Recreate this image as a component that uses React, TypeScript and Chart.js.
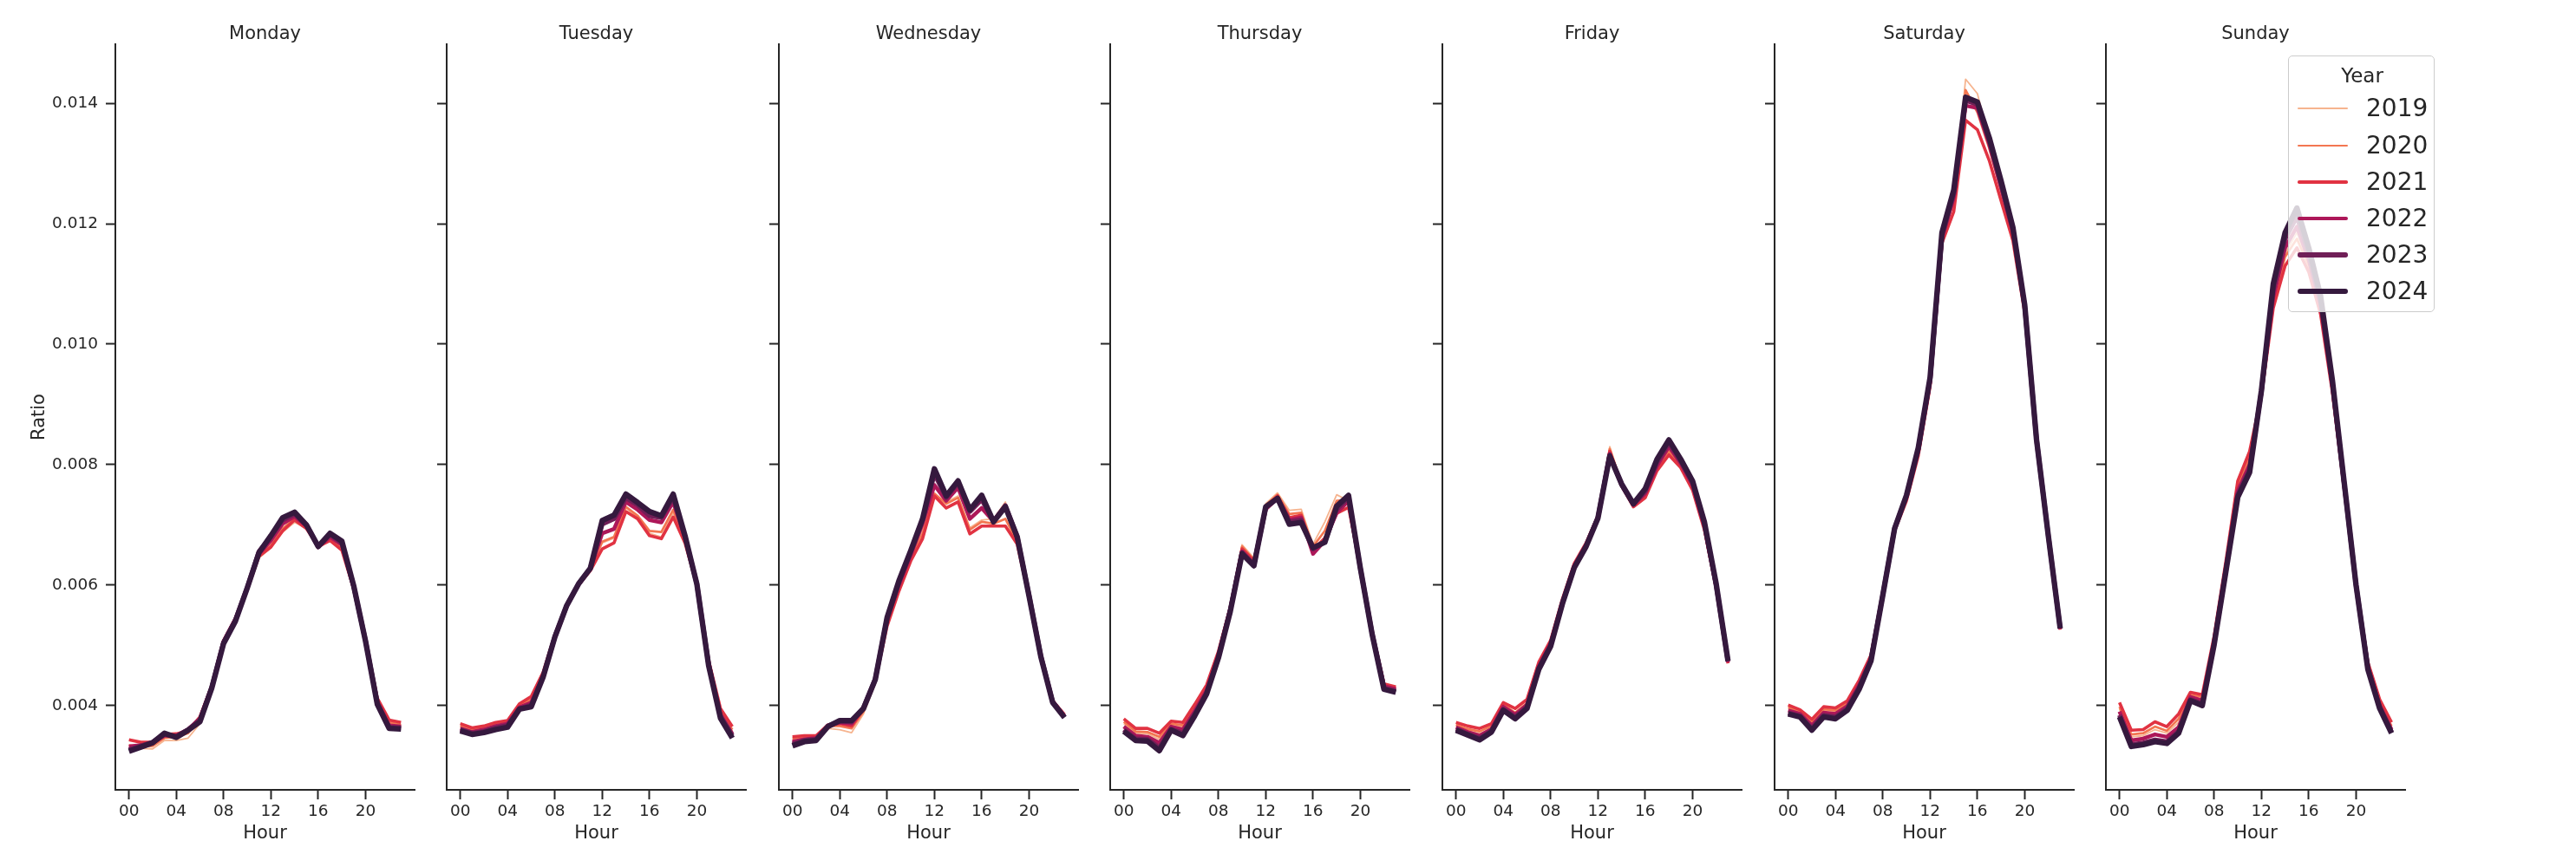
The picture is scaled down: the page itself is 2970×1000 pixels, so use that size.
import React, { useEffect, useRef } from "react";
import { Chart, registerables } from "chart.js";

Chart.register(...registerables);
Chart.defaults.font.family = "'DejaVu Sans', sans-serif";

// ---------- data ----------
const hours = [0, 1, 2, 3, 4, 5, 6, 7, 8, 9, 10, 11, 12, 13, 14, 15, 16, 17, 18, 19, 20, 21, 22, 23];
const days = ["Monday", "Tuesday", "Wednesday", "Thursday", "Friday", "Saturday", "Sunday"];
const years = ["2019", "2020", "2021", "2022", "2023", "2024"];
const xTickValues = [0, 4, 8, 12, 16, 20];
const yTickValues = [0.004, 0.006, 0.008, 0.01, 0.012, 0.014];

const monday2019 = [0.00330,0.00329,0.00328,0.00342,0.00342,0.00346,0.00370,0.00426,0.00502,0.00540,0.00590,0.00645,0.00662,0.00688,0.00704,0.00694,0.00663,0.00673,0.00660,0.00592,0.00506,0.00407,0.00370,0.00366];
const monday2020 = [0.00334,0.00332,0.00333,0.00346,0.00348,0.00354,0.00376,0.00430,0.00506,0.00542,0.00592,0.00648,0.00666,0.00694,0.00710,0.00696,0.00662,0.00676,0.00662,0.00595,0.00508,0.00408,0.00372,0.00368];
const monday2021 = [0.00343,0.00339,0.00339,0.00352,0.00353,0.00358,0.00381,0.00433,0.00508,0.00545,0.00592,0.00648,0.00663,0.00690,0.00708,0.00694,0.00664,0.00674,0.00658,0.00594,0.00510,0.00412,0.00376,0.00372];
const monday2022 = [0.00332,0.00334,0.00338,0.00350,0.00350,0.00360,0.00378,0.00431,0.00506,0.00543,0.00595,0.00652,0.00674,0.00702,0.00714,0.00698,0.00663,0.00680,0.00667,0.00596,0.00507,0.00406,0.00367,0.00365];
const monday2023 = [0.00327,0.00333,0.00339,0.00352,0.00349,0.00360,0.00376,0.00430,0.00505,0.00542,0.00596,0.00656,0.00680,0.00708,0.00718,0.00700,0.00664,0.00684,0.00670,0.00598,0.00508,0.00404,0.00364,0.00363];
const monday2024 = [0.00324,0.00331,0.00338,0.00354,0.00347,0.00359,0.00373,0.00429,0.00503,0.00540,0.00595,0.00654,0.00682,0.00712,0.00721,0.00700,0.00664,0.00686,0.00673,0.00599,0.00507,0.00402,0.00362,0.00361];

const tuesday2019 = [0.00364,0.00358,0.00361,0.00367,0.00370,0.00398,0.00408,0.00450,0.00515,0.00567,0.00601,0.00626,0.00670,0.00678,0.00728,0.00712,0.00686,0.00680,0.00720,0.00672,0.00601,0.00470,0.00388,0.00358];
const tuesday2020 = [0.00366,0.00360,0.00363,0.00369,0.00372,0.00400,0.00410,0.00452,0.00516,0.00567,0.00601,0.00625,0.00672,0.00680,0.00730,0.00715,0.00690,0.00688,0.00725,0.00674,0.00601,0.00472,0.00390,0.00360];
const tuesday2021 = [0.00370,0.00363,0.00366,0.00372,0.00375,0.00403,0.00415,0.00455,0.00518,0.00568,0.00600,0.00624,0.00660,0.00670,0.00722,0.00710,0.00682,0.00677,0.00713,0.00670,0.00600,0.00475,0.00395,0.00365];
const tuesday2022 = [0.00362,0.00356,0.00360,0.00366,0.00370,0.00397,0.00405,0.00449,0.00515,0.00566,0.00601,0.00627,0.00686,0.00693,0.00738,0.00725,0.00708,0.00704,0.00738,0.00678,0.00602,0.00470,0.00385,0.00353];
const tuesday2023 = [0.00360,0.00354,0.00357,0.00363,0.00367,0.00395,0.00401,0.00448,0.00514,0.00566,0.00602,0.00628,0.00701,0.00710,0.00745,0.00733,0.00715,0.00712,0.00745,0.00680,0.00602,0.00468,0.00382,0.00350];
const tuesday2024 = [0.00358,0.00352,0.00355,0.00360,0.00364,0.00394,0.00398,0.00447,0.00514,0.00566,0.00602,0.00628,0.00707,0.00716,0.00751,0.00737,0.00722,0.00715,0.00751,0.00682,0.00602,0.00466,0.00379,0.00346];

const wednesday2019 = [0.00342,0.00345,0.00346,0.00362,0.00360,0.00355,0.00386,0.00436,0.00538,0.00598,0.00648,0.00690,0.00750,0.00738,0.00748,0.00695,0.00708,0.00710,0.00738,0.00676,0.00584,0.00484,0.00408,0.00384];
const wednesday2020 = [0.00345,0.00348,0.00348,0.00366,0.00366,0.00362,0.00390,0.00438,0.00535,0.00595,0.00645,0.00685,0.00752,0.00735,0.00745,0.00692,0.00705,0.00702,0.00710,0.00672,0.00582,0.00483,0.00408,0.00384];
const wednesday2021 = [0.00348,0.00350,0.00350,0.00368,0.00370,0.00366,0.00394,0.00440,0.00532,0.00590,0.00640,0.00677,0.00748,0.00728,0.00738,0.00685,0.00698,0.00698,0.00698,0.00668,0.00580,0.00482,0.00408,0.00385];
const wednesday2022 = [0.00340,0.00344,0.00346,0.00366,0.00372,0.00370,0.00396,0.00444,0.00542,0.00600,0.00650,0.00702,0.00766,0.00740,0.00762,0.00710,0.00728,0.00706,0.00730,0.00678,0.00583,0.00483,0.00407,0.00382];
const wednesday2023 = [0.00336,0.00342,0.00344,0.00366,0.00374,0.00373,0.00396,0.00444,0.00545,0.00605,0.00655,0.00708,0.00785,0.00745,0.00770,0.00722,0.00742,0.00706,0.00732,0.00680,0.00583,0.00482,0.00406,0.00381];
const wednesday2024 = [0.00333,0.00340,0.00342,0.00365,0.00375,0.00375,0.00395,0.00443,0.00546,0.00607,0.00657,0.00710,0.00793,0.00748,0.00773,0.00725,0.00749,0.00705,0.00730,0.00680,0.00582,0.00481,0.00405,0.00380];

const thursday2019 = [0.00370,0.00354,0.00353,0.00344,0.00367,0.00364,0.00396,0.00428,0.00487,0.00562,0.00667,0.00645,0.00735,0.00753,0.00724,0.00726,0.00668,0.00705,0.00750,0.00740,0.00630,0.00522,0.00433,0.00428];
const thursday2020 = [0.00373,0.00357,0.00356,0.00348,0.00370,0.00367,0.00398,0.00430,0.00488,0.00562,0.00664,0.00642,0.00732,0.00750,0.00718,0.00720,0.00664,0.00690,0.00740,0.00742,0.00630,0.00522,0.00434,0.00429];
const thursday2021 = [0.00378,0.00362,0.00362,0.00354,0.00374,0.00372,0.00402,0.00434,0.00490,0.00563,0.00660,0.00640,0.00730,0.00748,0.00712,0.00716,0.00658,0.00678,0.00719,0.00729,0.00630,0.00523,0.00436,0.00431];
const thursday2022 = [0.00365,0.00350,0.00348,0.00338,0.00365,0.00360,0.00391,0.00425,0.00484,0.00560,0.00656,0.00635,0.00726,0.00745,0.00708,0.00712,0.00652,0.00674,0.00720,0.00740,0.00628,0.00520,0.00432,0.00427];
const thursday2023 = [0.00360,0.00345,0.00344,0.00330,0.00361,0.00354,0.00386,0.00421,0.00481,0.00558,0.00654,0.00634,0.00728,0.00744,0.00705,0.00708,0.00660,0.00672,0.00726,0.00745,0.00628,0.00519,0.00429,0.00424];
const thursday2024 = [0.00357,0.00342,0.00341,0.00325,0.00359,0.00350,0.00383,0.00419,0.00479,0.00556,0.00652,0.00632,0.00730,0.00744,0.00701,0.00704,0.00662,0.00671,0.00731,0.00749,0.00628,0.00518,0.00427,0.00422];

const friday2019 = [0.00366,0.00358,0.00353,0.00362,0.00398,0.00380,0.00398,0.00468,0.00505,0.00574,0.00634,0.00670,0.00718,0.00830,0.00770,0.00736,0.00753,0.00800,0.00826,0.00800,0.00764,0.00697,0.00598,0.00472];
const friday2020 = [0.00368,0.00361,0.00357,0.00366,0.00402,0.00388,0.00404,0.00470,0.00506,0.00575,0.00635,0.00669,0.00715,0.00826,0.00768,0.00733,0.00750,0.00795,0.00822,0.00798,0.00762,0.00695,0.00597,0.00471];
const friday2021 = [0.00372,0.00366,0.00362,0.00370,0.00405,0.00395,0.00410,0.00472,0.00508,0.00577,0.00636,0.00670,0.00715,0.00822,0.00765,0.00730,0.00745,0.00790,0.00816,0.00795,0.00758,0.00692,0.00595,0.00470];
const friday2022 = [0.00364,0.00356,0.00350,0.00361,0.00398,0.00385,0.00401,0.00465,0.00503,0.00572,0.00632,0.00667,0.00713,0.00818,0.00766,0.00733,0.00752,0.00798,0.00830,0.00802,0.00766,0.00698,0.00598,0.00472];
const friday2023 = [0.00361,0.00353,0.00346,0.00358,0.00394,0.00381,0.00398,0.00462,0.00500,0.00570,0.00630,0.00665,0.00712,0.00816,0.00767,0.00734,0.00756,0.00804,0.00836,0.00806,0.00770,0.00702,0.00600,0.00473];
const friday2024 = [0.00359,0.00351,0.00343,0.00356,0.00392,0.00378,0.00395,0.00460,0.00498,0.00569,0.00629,0.00664,0.00711,0.00814,0.00768,0.00735,0.00760,0.00809,0.00841,0.00809,0.00773,0.00705,0.00602,0.00474];

const saturday2019 = [0.00394,0.00388,0.00370,0.00392,0.00390,0.00402,0.00437,0.00481,0.00588,0.00693,0.00746,0.00822,0.00938,0.01180,0.01240,0.01440,0.01416,0.01340,0.01262,0.01188,0.01060,0.00839,0.00680,0.00527];
const saturday2020 = [0.00397,0.00390,0.00372,0.00394,0.00392,0.00404,0.00439,0.00482,0.00588,0.00692,0.00744,0.00820,0.00935,0.01176,0.01236,0.01422,0.01385,0.01325,0.01255,0.01183,0.01058,0.00838,0.00679,0.00527];
const saturday2021 = [0.00401,0.00393,0.00377,0.00398,0.00396,0.00408,0.00442,0.00484,0.00588,0.00690,0.00740,0.00815,0.00930,0.01168,0.01220,0.01372,0.01356,0.01305,0.01238,0.01172,0.01052,0.00836,0.00678,0.00526];
const saturday2022 = [0.00392,0.00386,0.00367,0.00388,0.00386,0.00399,0.00434,0.00478,0.00585,0.00693,0.00746,0.00823,0.00938,0.01175,0.01244,0.01396,0.01392,0.01332,0.01260,0.01186,0.01061,0.00840,0.00680,0.00527];
const saturday2023 = [0.00388,0.00383,0.00362,0.00384,0.00381,0.00395,0.00430,0.00476,0.00584,0.00694,0.00748,0.00826,0.00942,0.01180,0.01250,0.01405,0.01398,0.01338,0.01266,0.01190,0.01063,0.00841,0.00681,0.00528];
const saturday2024 = [0.00386,0.00381,0.00359,0.00381,0.00378,0.00392,0.00427,0.00474,0.00583,0.00694,0.00749,0.00828,0.00945,0.01185,0.01256,0.01410,0.01402,0.01343,0.01271,0.01194,0.01065,0.00841,0.00681,0.00528];

const sunday2019 = [0.00394,0.00348,0.00350,0.00360,0.00354,0.00372,0.00416,0.00411,0.00510,0.00634,0.00760,0.00806,0.00920,0.01075,0.01150,0.01185,0.01135,0.01060,0.00928,0.00764,0.00600,0.00466,0.00402,0.00363];
const sunday2020 = [0.00398,0.00352,0.00354,0.00365,0.00358,0.00378,0.00418,0.00414,0.00512,0.00636,0.00765,0.00812,0.00918,0.01068,0.01145,0.01175,0.01130,0.01058,0.00925,0.00762,0.00600,0.00468,0.00405,0.00366];
const sunday2021 = [0.00405,0.00359,0.00360,0.00373,0.00365,0.00386,0.00422,0.00418,0.00515,0.00640,0.00773,0.00822,0.00915,0.01060,0.01130,0.01160,0.01120,0.01050,0.00920,0.00760,0.00600,0.00472,0.00410,0.00372];
const sunday2022 = [0.00390,0.00342,0.00345,0.00352,0.00348,0.00364,0.00414,0.00408,0.00506,0.00630,0.00756,0.00800,0.00920,0.01078,0.01160,0.01195,0.01140,0.01065,0.00930,0.00765,0.00600,0.00465,0.00400,0.00360];
const sunday2023 = [0.00384,0.00335,0.00338,0.00343,0.00340,0.00357,0.00410,0.00403,0.00503,0.00625,0.00750,0.00792,0.00922,0.01090,0.01175,0.01212,0.01150,0.01072,0.00935,0.00768,0.00600,0.00462,0.00397,0.00356];
const sunday2024 = [0.00381,0.00332,0.00335,0.00340,0.00337,0.00354,0.00408,0.00400,0.00501,0.00623,0.00746,0.00787,0.00923,0.01100,0.01185,0.01226,0.01160,0.01080,0.00940,0.00770,0.00600,0.00460,0.00395,0.00354];

const seriesByDay: number[][][] = [
  [monday2019, monday2020, monday2021, monday2022, monday2023, monday2024],
  [tuesday2019, tuesday2020, tuesday2021, tuesday2022, tuesday2023, tuesday2024],
  [wednesday2019, wednesday2020, wednesday2021, wednesday2022, wednesday2023, wednesday2024],
  [thursday2019, thursday2020, thursday2021, thursday2022, thursday2023, thursday2024],
  [friday2019, friday2020, friday2021, friday2022, friday2023, friday2024],
  [saturday2019, saturday2020, saturday2021, saturday2022, saturday2023, saturday2024],
  [sunday2019, sunday2020, sunday2021, sunday2022, sunday2023, sunday2024],
];

// ---------- styles ----------
const yearColors = ["#f6b48f", "#f37651", "#e13342", "#ad1759", "#701f57", "#35193e"];
const yearWidths = [1.8, 2.7, 3.6, 4.5, 5.4, 6.3];
const INK = "#262626";
const FONT = "'DejaVu Sans', sans-serif";

const axLefts = [133, 515, 898, 1280, 1663, 2046, 2428];
const AX_W = 345;
const RIGHT_PAD = 20;

function Panel({ index }: { index: number }) {
  const ref = useRef<HTMLCanvasElement | null>(null);
  const leftW = index === 0 ? 133 : 40;
  const canvasLeft = axLefts[index] - leftW;
  const canvasW = leftW + AX_W + RIGHT_PAD;

  useEffect(() => {
    if (!ref.current) return;
    const data = seriesByDay[index];
    const chart = new Chart(ref.current, {
      type: "line",
      data: {
        datasets: years.map((yr, j) => ({
          label: yr,
          data: data[j].map((v, k) => ({ x: hours[k], y: v })),
          borderColor: yearColors[j],
          backgroundColor: yearColors[j],
          borderWidth: yearWidths[j],
          pointRadius: 0,
          tension: 0,
          fill: false,
          order: years.length - 1 - j,
          borderJoinStyle: "round",
          borderCapStyle: "butt",
        })),
      },
      options: {
        responsive: false,
        animation: false,
        devicePixelRatio: 1,
        layout: { padding: { left: 0, right: RIGHT_PAD, top: 0, bottom: 0 } },
        plugins: {
          legend: { display: false },
          tooltip: { enabled: false },
          title: {
            display: true,
            text: days[index],
            fullSize: false,
            color: INK,
            font: { family: FONT, size: 21, weight: "normal", lineHeight: 1.0 },
            padding: { top: 29, bottom: 1 },
          },
        },
        scales: {
          x: {
            type: "linear",
            min: -1.15,
            max: 24.15,
            afterBuildTicks: (s: any) => {
              s.ticks = xTickValues.map((v) => ({ value: v }));
            },
            afterFit: (s: any) => {
              s.height = 89;
            },
            ticks: {
              autoSkip: false,
              maxRotation: 0,
              padding: 3,
              color: INK,
              font: { family: FONT, size: 18.5 },
              callback: (v: any) => String(v).padStart(2, "0"),
            },
            grid: {
              display: true,
              drawOnChartArea: false,
              drawTicks: true,
              tickLength: 11,
              tickWidth: 2,
              tickColor: INK,
            },
            border: { display: true, color: INK, width: 2 },
            title: {
              display: true,
              text: "Hour",
              color: INK,
              font: { family: FONT, size: 21 },
              padding: { top: 0, bottom: 26 },
            },
          },
          y: {
            type: "linear",
            min: 0.0026,
            max: 0.01498,
            afterBuildTicks: (s: any) => {
              s.ticks = yTickValues.map((v) => ({ value: v }));
            },
            afterFit: (s: any) => {
              s.width = leftW;
            },
            ticks: {
              display: index === 0,
              padding: 9,
              color: INK,
              font: { family: FONT, size: 18.5 },
              callback: (v: any) => Number(v).toFixed(3),
            },
            grid: {
              display: true,
              drawOnChartArea: false,
              drawTicks: true,
              tickLength: 11,
              tickWidth: 2,
              tickColor: INK,
            },
            border: { display: true, color: INK, width: 2 },
            title: {
              display: index === 0,
              text: "Ratio",
              color: INK,
              font: { family: FONT, size: 21 },
              padding: { top: 33, bottom: 0 },
            },
          },
        },
      } as any,
    });
    return () => chart.destroy();
  }, [index]);

  return (
    <canvas
      ref={ref}
      width={canvasW}
      height={1000}
      style={{ position: "absolute", left: canvasLeft, top: 0, width: canvasW, height: 1000 }}
    />
  );
}

function Legend() {
  const boxLeft = 2638;
  const boxTop = 64;
  const rowCenters = [124, 167, 209, 251, 293, 335];
  return (
    <div
      style={{
        position: "absolute",
        left: boxLeft,
        top: boxTop,
        width: 169,
        height: 296,
        boxSizing: "border-box",
        border: "1.5px solid #cccccc",
        borderRadius: 5,
        background: "rgba(255,255,255,0.8)",
        fontFamily: FONT,
        color: INK,
      }}
    >
      <div
        style={{
          position: "absolute",
          left: 0,
          width: 169,
          top: 86 - boxTop - 15,
          height: 30,
          lineHeight: "30px",
          textAlign: "center",
          fontSize: 23,
        }}
      >
        Year
      </div>
      {years.map((yr, j) => (
        <React.Fragment key={yr}>
          <div
            style={{
              position: "absolute",
              left: 2648 - boxLeft,
              width: 58,
              top: rowCenters[j] - boxTop - yearWidths[j] / 2,
              height: yearWidths[j],
              background: yearColors[j],
              borderRadius: yearWidths[j] / 2,
            }}
          />
          <div
            style={{
              position: "absolute",
              left: 2727 - boxLeft,
              top: rowCenters[j] - boxTop - 18,
              height: 36,
              lineHeight: "36px",
              fontSize: 28,
            }}
          >
            {yr}
          </div>
        </React.Fragment>
      ))}
    </div>
  );
}

export default function App() {
  return (
    <div
      style={{
        position: "absolute",
        left: 0,
        top: 0,
        width: 2970,
        height: 1000,
        background: "#ffffff",
        overflow: "hidden",
      }}
    >
      {days.map((d, i) => (
        <Panel key={d} index={i} />
      ))}
      <Legend />
    </div>
  );
}
